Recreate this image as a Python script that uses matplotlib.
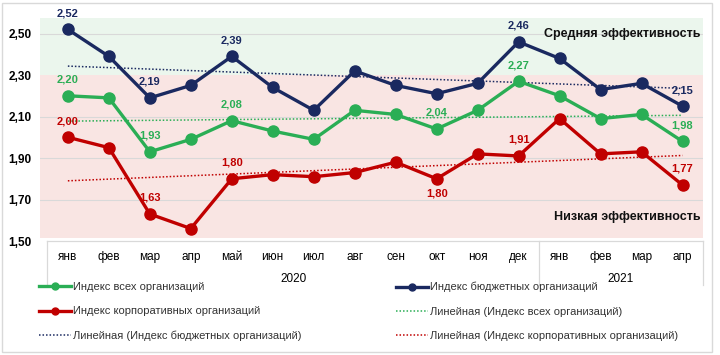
import numpy as np
import matplotlib.pyplot as plt
from matplotlib.lines import Line2D
from matplotlib.patches import Rectangle
import matplotlib.transforms as mtransforms

plt.rcParams['font.family'] = ['Liberation Sans', 'DejaVu Sans']

months = ["янв", "фев", "мар", "апр", "май", "июн", "июл", "авг",
          "сен", "окт", "ноя", "дек", "янв", "фев", "мар", "апр"]
years = ["2020", "2021"]

idx_all = [2.20, 2.19, 1.93, 1.99, 2.08, 2.03, 1.99, 2.13,
           2.11, 2.04, 2.13, 2.27, 2.20, 2.09, 2.11, 1.98]
idx_budget = [2.52, 2.39, 2.19, 2.25, 2.39, 2.24, 2.13, 2.32,
              2.25, 2.21, 2.26, 2.46, 2.38, 2.23, 2.26, 2.15]
idx_corp = [2.00, 1.95, 1.63, 1.56, 1.80, 1.82, 1.81, 1.83,
            1.88, 1.80, 1.92, 1.91, 2.09, 1.92, 1.93, 1.77]

# indices of points that carry value labels
lab_all = [0, 2, 4, 9, 11, 15]
lab_budget = [0, 2, 4, 11, 15]
lab_corp = [0, 2, 4, 11, 15]

c_green = '#2aae55'
c_blue = '#1a2960'
c_red = '#c00000'

fig = plt.figure(figsize=(7.2, 3.55), dpi=100)
ax = fig.add_axes([40/720, 1-241/355, 663/720, 223/355])

x = np.arange(len(months))
ax.set_xlim(-0.68, 15.5)
ax.set_ylim(1.5, 2.575)

# efficiency zones
ax.axhspan(2.30, 2.575, color='#ebf6ed', zorder=0, lw=0)
ax.axhspan(1.515, 2.30, color='#f9e5e3', zorder=0, lw=0)
for v in [1.70, 1.90, 2.10, 2.50]:
    ax.axhline(v, color='#d9d9d9', lw=0.8, zorder=1)

# trend lines
dots = (0, (1, 1.3))
for ser, col in [(idx_all, c_green), (idx_budget, c_blue), (idx_corp, c_red)]:
    k, b = np.polyfit(x, ser, 1)
    ax.plot(x, k*x + b, ls=dots, color=col, lw=1.1, zorder=2)

for ser, col in [(idx_all, c_green), (idx_budget, c_blue), (idx_corp, c_red)]:
    ax.plot(x, ser, color=col, lw=2.4, marker='o', ms=8, zorder=3)

def labels(ser, ids, col):
    for i in ids:
        ax.annotate(f"{ser[i]:.2f}".replace('.', ','), (x[i], ser[i]),
                    xytext=(0, 8), textcoords='offset points', ha='center',
                    va='bottom', fontsize=8, fontweight='bold', color=col)

labels(idx_all, lab_all, c_green)
labels(idx_budget, lab_budget, c_blue)
labels(idx_corp, lab_corp, c_red)
# the october corp label sits below its point
ax.annotate("1,80", (x[9], idx_corp[9]), xytext=(0, -7), textcoords='offset points',
            ha='center', va='top', fontsize=8, fontweight='bold', color=c_red)

ax.text(15.45, 2.50, "Средняя эффективность", ha='right', va='center',
        fontsize=9, fontweight='bold', color='#111111')
ax.text(15.45, 1.615, "Низкая эффективность", ha='right', va='center',
        fontsize=9, fontweight='bold', color='#111111')

yt = [1.5, 1.7, 1.9, 2.1, 2.3, 2.5]
ax.set_yticks(yt)
ax.set_yticklabels([f"{v:.2f}".replace('.', ',') for v in yt],
                   fontweight='bold', fontsize=8.5)
ax.tick_params(axis='y', length=0, pad=6)
ax.set_xticks([])
for s in ax.spines.values():
    s.set_visible(False)

# category axis box under the plot
tr = mtransforms.blended_transform_factory(ax.transData, ax.transAxes)
bot = -44/223
box_kw = dict(color='#d9d9d9', lw=0.9, transform=tr, clip_on=False)
ax.plot([-0.5, 15.5], [0, 0], **box_kw)
for xv in [-0.5, 11.5, 15.5]:
    ax.plot([xv, xv], [0, bot], **box_kw)
for i, m in enumerate(months):
    ax.text(x[i], -16/223, m, transform=tr, ha='center', va='center', fontsize=8.5)
ax.text(5.5, -38/223, years[0], transform=tr, ha='center', va='center', fontsize=8.5)
ax.text(13.5, -38/223, years[1], transform=tr, ha='center', va='center', fontsize=8.5)

# legends
h_all = Line2D([], [], color=c_green, lw=2.4, marker='o', ms=5)
h_budget = Line2D([], [], color=c_blue, lw=2.4, marker='o', ms=5)
h_corp = Line2D([], [], color=c_red, lw=2.4, marker='o', ms=5)
t_all = Line2D([], [], color=c_green, lw=1.1, ls=dots)
t_budget = Line2D([], [], color=c_blue, lw=1.1, ls=dots)
t_corp = Line2D([], [], color=c_red, lw=1.1, ls=dots)

leg_kw = dict(frameon=False, fontsize=8, handlelength=2.9, handletextpad=0.2,
              labelspacing=1.3, borderpad=0, borderaxespad=0, labelcolor='#333333')
fig.legend([h_all, h_corp, t_budget],
           ["Индекс всех организаций", "Индекс корпоративных организаций",
            "Линейная (Индекс бюджетных организаций)"],
           loc='upper left', bbox_to_anchor=(39/720, 1-282/355), **leg_kw)
fig.legend([h_budget, t_all, t_corp],
           ["Индекс бюджетных организаций", "Линейная (Индекс всех организаций)",
            "Линейная (Индекс корпоративных организаций)"],
           loc='upper left', bbox_to_anchor=(396/720, 1-282/355), **leg_kw)

# outer frame
fig.patches.append(Rectangle((2/720, 3/355), 710/720, 349/355, transform=fig.transFigure,
                             fill=False, edgecolor='#d9d9d9', lw=1))

fig.savefig("out.png", dpi=100)
